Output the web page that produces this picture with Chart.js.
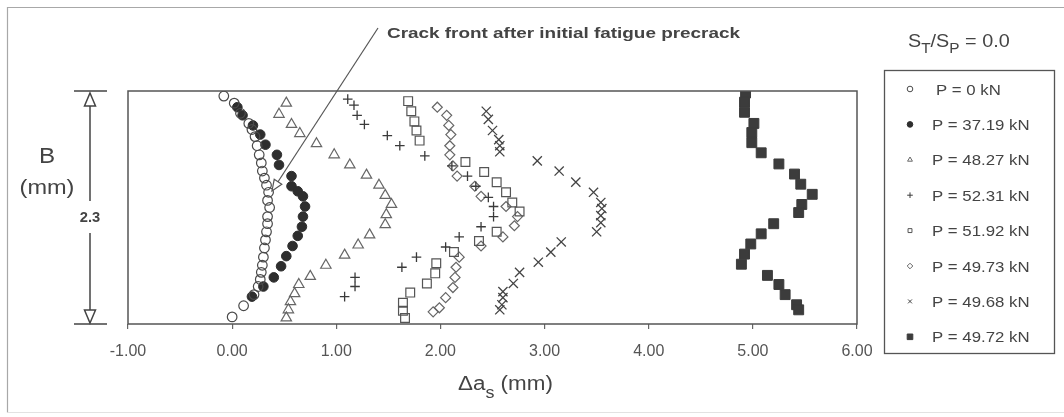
<!DOCTYPE html>
<html>
<head>
<meta charset="utf-8">
<script src="https://cdn.jsdelivr.net/npm/chart.js"></script>
<style>
  html, body { margin: 0; padding: 0; background: #ffffff; }
  #wrap { width: 1064px; height: 417px; position: relative; }
</style>
</head>
<body>
<div id="wrap"><canvas id="c" width="1064" height="417"></canvas></div>
<script>
// Crack front profiles: [Δa_s (mm), position through thickness B (mm)]
const loadLabels = ['P = 0 kN', 'P = 37.19 kN', 'P = 48.27 kN', 'P = 52.31 kN',
                    'P = 51.92 kN', 'P = 49.73 kN', 'P = 49.68 kN', 'P = 49.72 kN'];
const xTickRange = [-1, 6];
const thicknessB = 2.3;
const ratioLabel = '0.0';

const frontP0 = [[-0.08,2.25],[0.02,2.18],[0.08,2.08],[0.16,1.98],[0.19,1.92],[0.22,1.85],[0.24,1.76],
  [0.26,1.67],[0.28,1.59],[0.29,1.51],[0.31,1.44],[0.33,1.37],[0.35,1.30],[0.34,1.22],[0.36,1.15],
  [0.34,1.06],[0.34,0.99],[0.33,0.91],[0.32,0.83],[0.31,0.75],[0.30,0.66],[0.29,0.58],[0.28,0.51],
  [0.27,0.44],[0.25,0.37],[0.21,0.29],[0.11,0.18],[0.00,0.07]];
const frontP3719 = [[0.05,2.14],[0.10,2.06],[0.20,1.96],[0.27,1.87],[0.32,1.77],[0.43,1.67],[0.45,1.57],
  [0.57,1.46],[0.57,1.36],[0.63,1.31],[0.68,1.26],[0.70,1.16],[0.68,1.06],[0.67,0.96],[0.63,0.87],
  [0.58,0.77],[0.52,0.67],[0.47,0.57],[0.40,0.46],[0.30,0.37],[0.19,0.27]];
const frontP4827 = [[0.52,2.18],[0.45,2.07],[0.57,1.97],[0.65,1.88],[0.81,1.78],[0.98,1.67],[1.13,1.57],
  [1.29,1.47],[1.41,1.37],[1.47,1.27],[1.53,1.18],[1.48,1.08],[1.47,0.98],[1.32,0.88],[1.21,0.78],
  [1.08,0.68],[0.90,0.58],[0.75,0.47],[0.64,0.39],[0.60,0.30],[0.56,0.22],[0.54,0.14],[0.52,0.06]];
const frontP5231 = [[1.11,2.22],[1.17,2.16],[1.20,2.06],[1.27,1.97],[1.49,1.86],[1.61,1.76],[1.85,1.66],
  [2.11,1.56],[2.26,1.46],[2.34,1.36],[2.46,1.25],[2.51,1.16],[2.51,1.06],[2.39,0.96],[2.18,0.86],
  [2.05,0.76],[1.77,0.66],[1.63,0.56],[1.18,0.46],[1.18,0.37],[1.08,0.27]];
const frontP5192 = [[1.69,2.20],[1.72,2.10],[1.75,2.00],[1.77,1.91],[1.80,1.81],[2.24,1.60],[2.42,1.50],
  [2.54,1.40],[2.63,1.30],[2.69,1.20],[2.76,1.11],[2.54,0.91],[2.37,0.82],[2.13,0.71],[1.96,0.60],
  [1.95,0.50],[1.87,0.40],[1.71,0.31],[1.64,0.21],[1.64,0.13],[1.66,0.06]];
const frontP4973 = [[1.97,2.14],[2.06,2.06],[2.08,1.96],[2.10,1.87],[2.09,1.76],[2.09,1.67],[2.12,1.56],
  [2.16,1.46],[2.33,1.36],[2.39,1.26],[2.63,1.16],[2.74,1.06],[2.71,0.97],[2.60,0.86],[2.39,0.77],
  [2.18,0.66],[2.15,0.56],[2.14,0.46],[2.12,0.36],[2.05,0.26],[1.99,0.16],[1.93,0.12]];
const frontP4968 = [[2.44,2.10],[2.46,2.02],[2.50,1.91],[2.56,1.82],[2.57,1.76],[2.57,1.70],[2.93,1.61],
  [3.14,1.51],[3.30,1.40],[3.47,1.30],[3.54,1.20],[3.55,1.14],[3.54,1.07],[3.54,1.00],[3.50,0.91],
  [3.16,0.81],[3.06,0.71],[2.94,0.61],[2.76,0.51],[2.70,0.40],[2.60,0.32],[2.60,0.26],[2.59,0.19],[2.57,0.14]];
const frontP4972 = [[4.93,2.28],[4.92,2.19],[4.92,2.09],[5.01,1.98],[4.99,1.89],[4.99,1.79],[5.08,1.69],
  [5.25,1.58],[5.40,1.48],[5.46,1.38],[5.57,1.28],[5.47,1.18],[5.44,1.10],[5.20,0.99],[5.08,0.89],
  [4.98,0.79],[4.92,0.69],[4.89,0.59],[5.14,0.48],[5.25,0.39],[5.31,0.29],[5.42,0.19],[5.44,0.14]];

const FONT = "'Liberation Sans', Arial, sans-serif";

// marker appearance for each load level
const markerStyles = [
  { pointStyle: 'circle',   radius: 4.8, fill: 'rgba(0,0,0,0)', stroke: '#4a4a4a', lw: 1.2 },
  { pointStyle: 'circle',   radius: 4.8, fill: '#2e2e2e',       stroke: '#2e2e2e', lw: 1 },
  { pointStyle: 'triangle', radius: 6,   fill: 'rgba(0,0,0,0)', stroke: '#666666', lw: 1.2 },
  { pointStyle: 'cross',    radius: 4.8, fill: 'rgba(0,0,0,0)', stroke: '#3a3a3a', lw: 1.3 },
  { pointStyle: 'rect',     radius: 6.2, fill: 'rgba(0,0,0,0)', stroke: '#555555', lw: 1.2 },
  { pointStyle: 'rectRot',  radius: 5,   fill: 'rgba(0,0,0,0)', stroke: '#666666', lw: 1.2 },
  { pointStyle: 'crossRot', radius: 6.5, fill: 'rgba(0,0,0,0)', stroke: '#444444', lw: 1.3 },
  { pointStyle: 'rect',     radius: 7,   fill: '#3c3c3c',       stroke: '#3c3c3c', lw: 1 }
];
const fronts = [frontP0, frontP3719, frontP4827, frontP5231, frontP5192, frontP4973, frontP4968, frontP4972];

const datasets = fronts.map((pts, i) => ({
  label: loadLabels[i],
  data: pts.map(p => ({ x: p[0], y: p[1] })),
  pointStyle: markerStyles[i].pointStyle,
  pointRadius: markerStyles[i].radius,
  pointHoverRadius: markerStyles[i].radius,
  pointBackgroundColor: markerStyles[i].fill,
  pointBorderColor: markerStyles[i].stroke,
  pointBorderWidth: markerStyles[i].lw,
  showLine: false
}));

// text helper with a slight horizontal stretch
function stretchText(ctx, text, x, y, font, color, align, sx) {
  ctx.save();
  ctx.font = font;
  ctx.fillStyle = color;
  ctx.textBaseline = 'alphabetic';
  const w = ctx.measureText(text).width * sx;
  let x0 = x;
  if (align === 'center') x0 = x - w / 2;
  else if (align === 'right') x0 = x - w;
  ctx.translate(x0, y);
  ctx.scale(sx, 1);
  ctx.textAlign = 'left';
  ctx.fillText(text, 0, 0);
  ctx.restore();
  return w;
}

function drawMarker(ctx, st, x, y, r) {
  ctx.save();
  ctx.strokeStyle = st.stroke;
  ctx.fillStyle = st.fill;
  ctx.lineWidth = 1;
  ctx.beginPath();
  switch (st.pointStyle) {
    case 'circle': ctx.arc(x, y, r, 0, Math.PI * 2); break;
    case 'triangle':
      ctx.moveTo(x, y - r); ctx.lineTo(x + r * 0.866, y + r * 0.5); ctx.lineTo(x - r * 0.866, y + r * 0.5); ctx.closePath(); break;
    case 'cross': ctx.moveTo(x - r, y); ctx.lineTo(x + r, y); ctx.moveTo(x, y - r); ctx.lineTo(x, y + r); break;
    case 'crossRot': ctx.moveTo(x - r * .7, y - r * .7); ctx.lineTo(x + r * .7, y + r * .7); ctx.moveTo(x + r * .7, y - r * .7); ctx.lineTo(x - r * .7, y + r * .7); break;
    case 'rect': ctx.rect(x - r * .7, y - r * .7, r * 1.4, r * 1.4); break;
    case 'rectRot': ctx.moveTo(x, y - r); ctx.lineTo(x + r, y); ctx.lineTo(x, y + r); ctx.lineTo(x - r, y); ctx.closePath(); break;
  }
  if (st.pointStyle !== 'cross' && st.pointStyle !== 'crossRot') ctx.fill();
  ctx.stroke();
  ctx.restore();
}

const decorations = {
  id: 'decorations',
  afterDraw(chart) {
    const { ctx, chartArea: a, scales: { x, y } } = chart;
    ctx.save();

    // outer frame
    ctx.strokeStyle = '#a8a8a8'; ctx.lineWidth = 1.2;
    ctx.beginPath(); ctx.moveTo(7.5, 412.5); ctx.lineTo(7.5, 7.5); ctx.lineTo(1064, 7.5); ctx.stroke();
    ctx.strokeStyle = '#e2e2e2';
    ctx.beginPath(); ctx.moveTo(7.5, 412.5); ctx.lineTo(1064, 412.5); ctx.stroke();

    // plot box
    ctx.strokeStyle = '#555'; ctx.lineWidth = 1.5;
    ctx.strokeRect(a.left, a.top, a.right - a.left, a.bottom - a.top);

    // thickness dimension on the left
    const yt = y.getPixelForValue(thicknessB), yb = y.getPixelForValue(0), dx = 90;
    ctx.strokeStyle = '#444'; ctx.lineWidth = 1.5;
    ctx.beginPath();
    ctx.moveTo(74, yt); ctx.lineTo(107, yt);
    ctx.moveTo(74, yb); ctx.lineTo(107, yb);
    ctx.moveTo(dx, yt + 15); ctx.lineTo(dx, yt + 110);
    ctx.moveTo(dx, yt + 142); ctx.lineTo(dx, yb - 14);
    ctx.stroke();
    ctx.fillStyle = '#fff';
    ctx.beginPath(); ctx.moveTo(dx, yt + 2); ctx.lineTo(dx + 5.5, yt + 15); ctx.lineTo(dx - 5.5, yt + 15); ctx.closePath(); ctx.fill(); ctx.stroke();
    ctx.beginPath(); ctx.moveTo(dx, yb - 1); ctx.lineTo(dx + 5.5, yb - 14); ctx.lineTo(dx - 5.5, yb - 14); ctx.closePath(); ctx.fill(); ctx.stroke();
    stretchText(ctx, String(thicknessB), dx, yt + 131, 'bold 14px ' + FONT, '#444', 'center', 1.05);
    stretchText(ctx, 'B', 47, 163, '22px ' + FONT, '#444', 'center', 1.1);
    stretchText(ctx, '(mm)', 47, 194, '21px ' + FONT, '#444', 'center', 1.12);

    // leader to the precrack front
    const p0 = [378, 28], p1 = [272, 191];
    ctx.strokeStyle = '#555'; ctx.lineWidth = 1.2;
    ctx.beginPath(); ctx.moveTo(p0[0], p0[1]); ctx.lineTo(p1[0], p1[1]); ctx.stroke();
    const L = Math.hypot(p1[0] - p0[0], p1[1] - p0[1]);
    const ux = (p1[0] - p0[0]) / L, uy = (p1[1] - p0[1]) / L;
    const bx = p1[0] - ux * 11, by = p1[1] - uy * 11;
    ctx.fillStyle = '#fff';
    ctx.beginPath(); ctx.moveTo(p1[0], p1[1]); ctx.lineTo(bx - uy * 4.5, by + ux * 4.5); ctx.lineTo(bx + uy * 4.5, by - ux * 4.5); ctx.closePath(); ctx.fill(); ctx.stroke();
    {
      const txt = 'Crack front after initial fatigue precrack';
      ctx.font = 'bold 15px ' + FONT;
      const w = ctx.measureText(txt).width;
      stretchText(ctx, txt, 387, 38, 'bold 15px ' + FONT, '#444', 'left', 353 / w);
    }

    // x axis title: Δa_s (mm)
    {
      let cx = 458;
      const yb0 = 390;
      cx += stretchText(ctx, 'Δa', cx, yb0, '20px ' + FONT, '#444', 'left', 1.12);
      cx += stretchText(ctx, 's', cx, yb0 + 8, '16px ' + FONT, '#444', 'left', 1.12);
      stretchText(ctx, ' (mm)', cx, yb0, '20px ' + FONT, '#444', 'left', 1.12);
    }

    // ratio heading
    {
      let cx = 908;
      const b0 = 47;
      cx += stretchText(ctx, 'S', cx, b0, '18px ' + FONT, '#444', 'left', 1.1);
      cx += stretchText(ctx, 'T', cx, b0 + 6, '14px ' + FONT, '#444', 'left', 1.1);
      cx += stretchText(ctx, '/S', cx, b0, '18px ' + FONT, '#444', 'left', 1.1);
      cx += stretchText(ctx, 'P', cx, b0 + 6, '14px ' + FONT, '#444', 'left', 1.1);
      stretchText(ctx, ' = ' + ratioLabel, cx, b0, '18px ' + FONT, '#444', 'left', 1.1);
    }

    // legend box
    ctx.strokeStyle = '#555'; ctx.lineWidth = 1.3;
    ctx.strokeRect(884.5, 70.5, 170, 283);
    chart.data.datasets.forEach((ds, i) => {
      const cy = 89 + i * 35.4;
      drawMarker(ctx, markerStyles[i], 910, cy, i === 7 ? 4 : 2.8);
      stretchText(ctx, ds.label, i === 0 ? 936 : 932, cy + 5.5, '15px ' + FONT, '#444', 'left', 1.12);
    });

    ctx.restore();
  }
};

new Chart(document.getElementById('c'), {
  type: 'scatter',
  data: { datasets },
  options: {
    responsive: false,
    animation: false,
    events: [],
    layout: { padding: { left: 128, right: 207, top: 91, bottom: 0 } },
    plugins: { legend: { display: false }, tooltip: { enabled: false } },
    scales: {
      x: {
        type: 'linear',
        min: xTickRange[0], max: xTickRange[1],
        afterFit(scale) { scale.height = 93; },
        border: { display: false },
        grid: { drawOnChartArea: false, drawTicks: true, tickLength: 5, color: '#666', lineWidth: 1.2 },
        ticks: {
          stepSize: 1,
          padding: 13,
          color: '#555',
          font: { family: FONT, size: 16 },
          callback: v => Number(v).toFixed(2)
        }
      },
      y: {
        type: 'linear',
        min: 0, max: thicknessB,
        display: false
      }
    }
  },
  plugins: [decorations]
});
</script>
</body>
</html>
